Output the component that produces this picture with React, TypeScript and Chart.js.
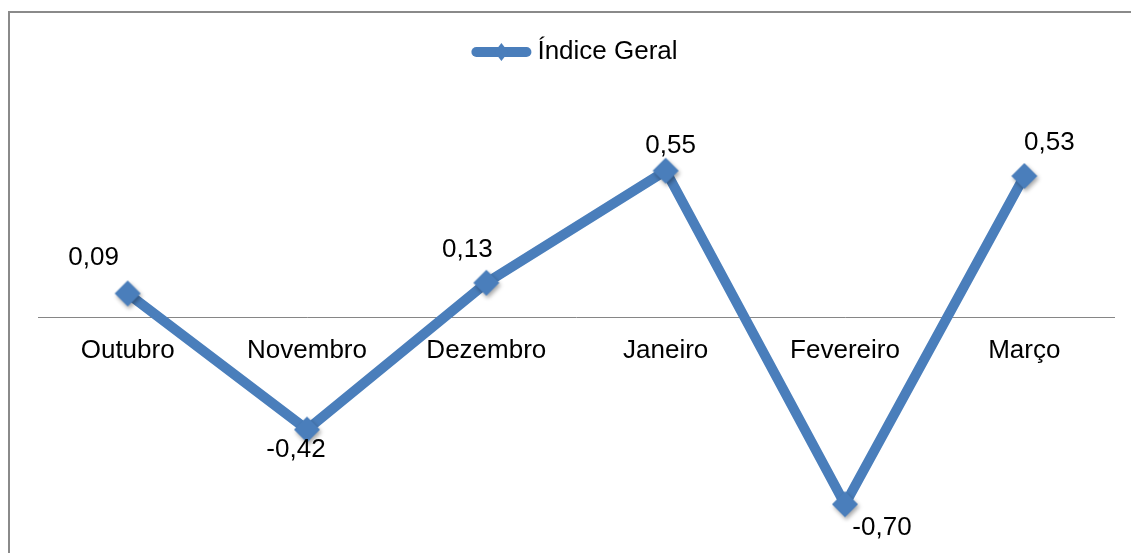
import React, { useEffect, useRef } from 'react';
import { Chart, registerables } from 'chart.js';

Chart.register(...registerables);

const categories = ['Outubro', 'Novembro', 'Dezembro', 'Janeiro', 'Fevereiro', 'Março'];
const indiceGeral = [0.09, -0.42, 0.13, 0.55, -0.7, 0.53];
const valueLabels = ['0,09', '-0,42', '0,13', '0,55', '-0,70', '0,53'];
const seriesName = 'Índice Geral';

// style: label offsets (dx, dy) relative to each point
const labelOffsets: [number, number][] = [
  [-34, -36],
  [-11, 20],
  [-19, -33],
  [5, -25],
  [37, 24],
  [25, -33],
];

const BLUE = '#4A7EBB';
const FONT = "'Liberation Sans', Arial, sans-serif";

function makeMarker(): HTMLCanvasElement {
  const c = document.createElement('canvas');
  c.width = 40;
  c.height = 40;
  const ctx = c.getContext('2d')!;
  const cx = 20;
  const cy = 20;
  const r = 13;
  ctx.shadowColor = 'rgba(0,0,0,0.35)';
  ctx.shadowBlur = 4;
  ctx.shadowOffsetX = 1.5;
  ctx.shadowOffsetY = 2.5;
  ctx.fillStyle = BLUE;
  ctx.beginPath();
  ctx.moveTo(cx - r, cy);
  ctx.lineTo(cx, cy - r);
  ctx.lineTo(cx + r, cy);
  ctx.lineTo(cx, cy + r);
  ctx.closePath();
  ctx.fill();
  return c;
}

const framePlugin = {
  id: 'frame',
  beforeDraw(chart: any) {
    const ctx = chart.ctx;
    ctx.save();
    ctx.fillStyle = '#8a8a8a';
    ctx.fillRect(8, 11, chart.width - 8, 2);
    ctx.fillRect(8, 11, 2, chart.height - 11);
    ctx.restore();
  },
};

const labelPlugin = {
  id: 'valueLabels',
  afterDatasetsDraw(chart: any) {
    const ctx = chart.ctx;
    const meta = chart.getDatasetMeta(0);
    ctx.save();
    ctx.font = `26px ${FONT}`;
    ctx.fillStyle = '#000';
    ctx.textAlign = 'center';
    ctx.textBaseline = 'middle';
    meta.data.forEach((pt: any, i: number) => {
      const [dx, dy] = labelOffsets[i];
      ctx.fillText(valueLabels[i], pt.x + dx, pt.y + dy);
    });
    ctx.restore();
  },
};

const legendMarkerPlugin = {
  id: 'legendMarker',
  afterDraw(chart: any) {
    const legend = chart.legend;
    if (!legend || !legend.legendHitBoxes || !legend.legendHitBoxes.length) return;
    const hb = legend.legendHitBoxes[0];
    const ctx = chart.ctx;
    const cy = hb.top + hb.height / 2;
    const x0 = hb.left - 3;
    const len = 60;
    ctx.save();
    ctx.strokeStyle = BLUE;
    ctx.lineWidth = 10;
    ctx.lineCap = 'round';
    ctx.beginPath();
    ctx.moveTo(x0 + 5, cy);
    ctx.lineTo(x0 + len - 5, cy);
    ctx.stroke();
    const mx = x0 + len / 2;
    ctx.fillStyle = BLUE;
    ctx.beginPath();
    ctx.moveTo(mx - 7, cy);
    ctx.lineTo(mx, cy - 9);
    ctx.lineTo(mx + 7, cy);
    ctx.lineTo(mx, cy + 9);
    ctx.closePath();
    ctx.fill();
    ctx.restore();
  },
};

export default function App() {
  const ref = useRef<HTMLCanvasElement | null>(null);

  useEffect(() => {
    if (!ref.current) return;
    const marker = makeMarker();
    const chart = new Chart(ref.current, {
      type: 'line',
      data: {
        labels: categories,
        datasets: [
          {
            label: seriesName,
            data: indiceGeral,
            borderColor: BLUE,
            backgroundColor: BLUE,
            borderWidth: 10,
            pointStyle: marker as any,
            pointRadius: 13,
            pointBackgroundColor: BLUE,
            pointBorderColor: BLUE,
            tension: 0,
            clip: false as any,
          },
        ],
      },
      options: {
        responsive: false,
        animation: false,
        events: [],
        layout: { autoPadding: false, padding: { top: 29, left: 38, right: 17, bottom: 14 } },
        plugins: {
          tooltip: { enabled: false },
          legend: {
            display: true,
            position: 'top',
            labels: {
              font: { family: FONT, size: 26 },
              color: '#000',
              boxWidth: 50,
              boxHeight: 9,
              generateLabels: () => [
                {
                  text: seriesName,
                  fillStyle: 'rgba(0,0,0,0)',
                  strokeStyle: 'rgba(0,0,0,0)',
                  lineWidth: 0,
                  hidden: false,
                  datasetIndex: 0,
                } as any,
              ],
            },
          },
        },
        scales: {
          x: {
            position: { y: 0 } as any,
            offset: true,
            grid: { display: false, drawTicks: false },
            border: { display: true, color: '#868686', width: 1 },
            ticks: {
              font: { family: FONT, size: 26 },
              color: '#000',
              padding: 18,
              maxRotation: 0,
              autoSkip: false,
            },
            afterFit: (scale: any) => {
              scale.height = 0;
            },
          },
          y: {
            display: false,
            min: -0.83,
            max: 0.9086,
          },
        },
      },
      plugins: [framePlugin, labelPlugin, legendMarkerPlugin],
    });
    return () => chart.destroy();
  }, []);

  return (
    <div style={{ position: 'fixed', left: 0, top: 0, width: 1131, height: 553, background: '#fff' }}>
      <canvas ref={ref} width={1131} height={553} style={{ display: 'block' }} />
    </div>
  );
}
